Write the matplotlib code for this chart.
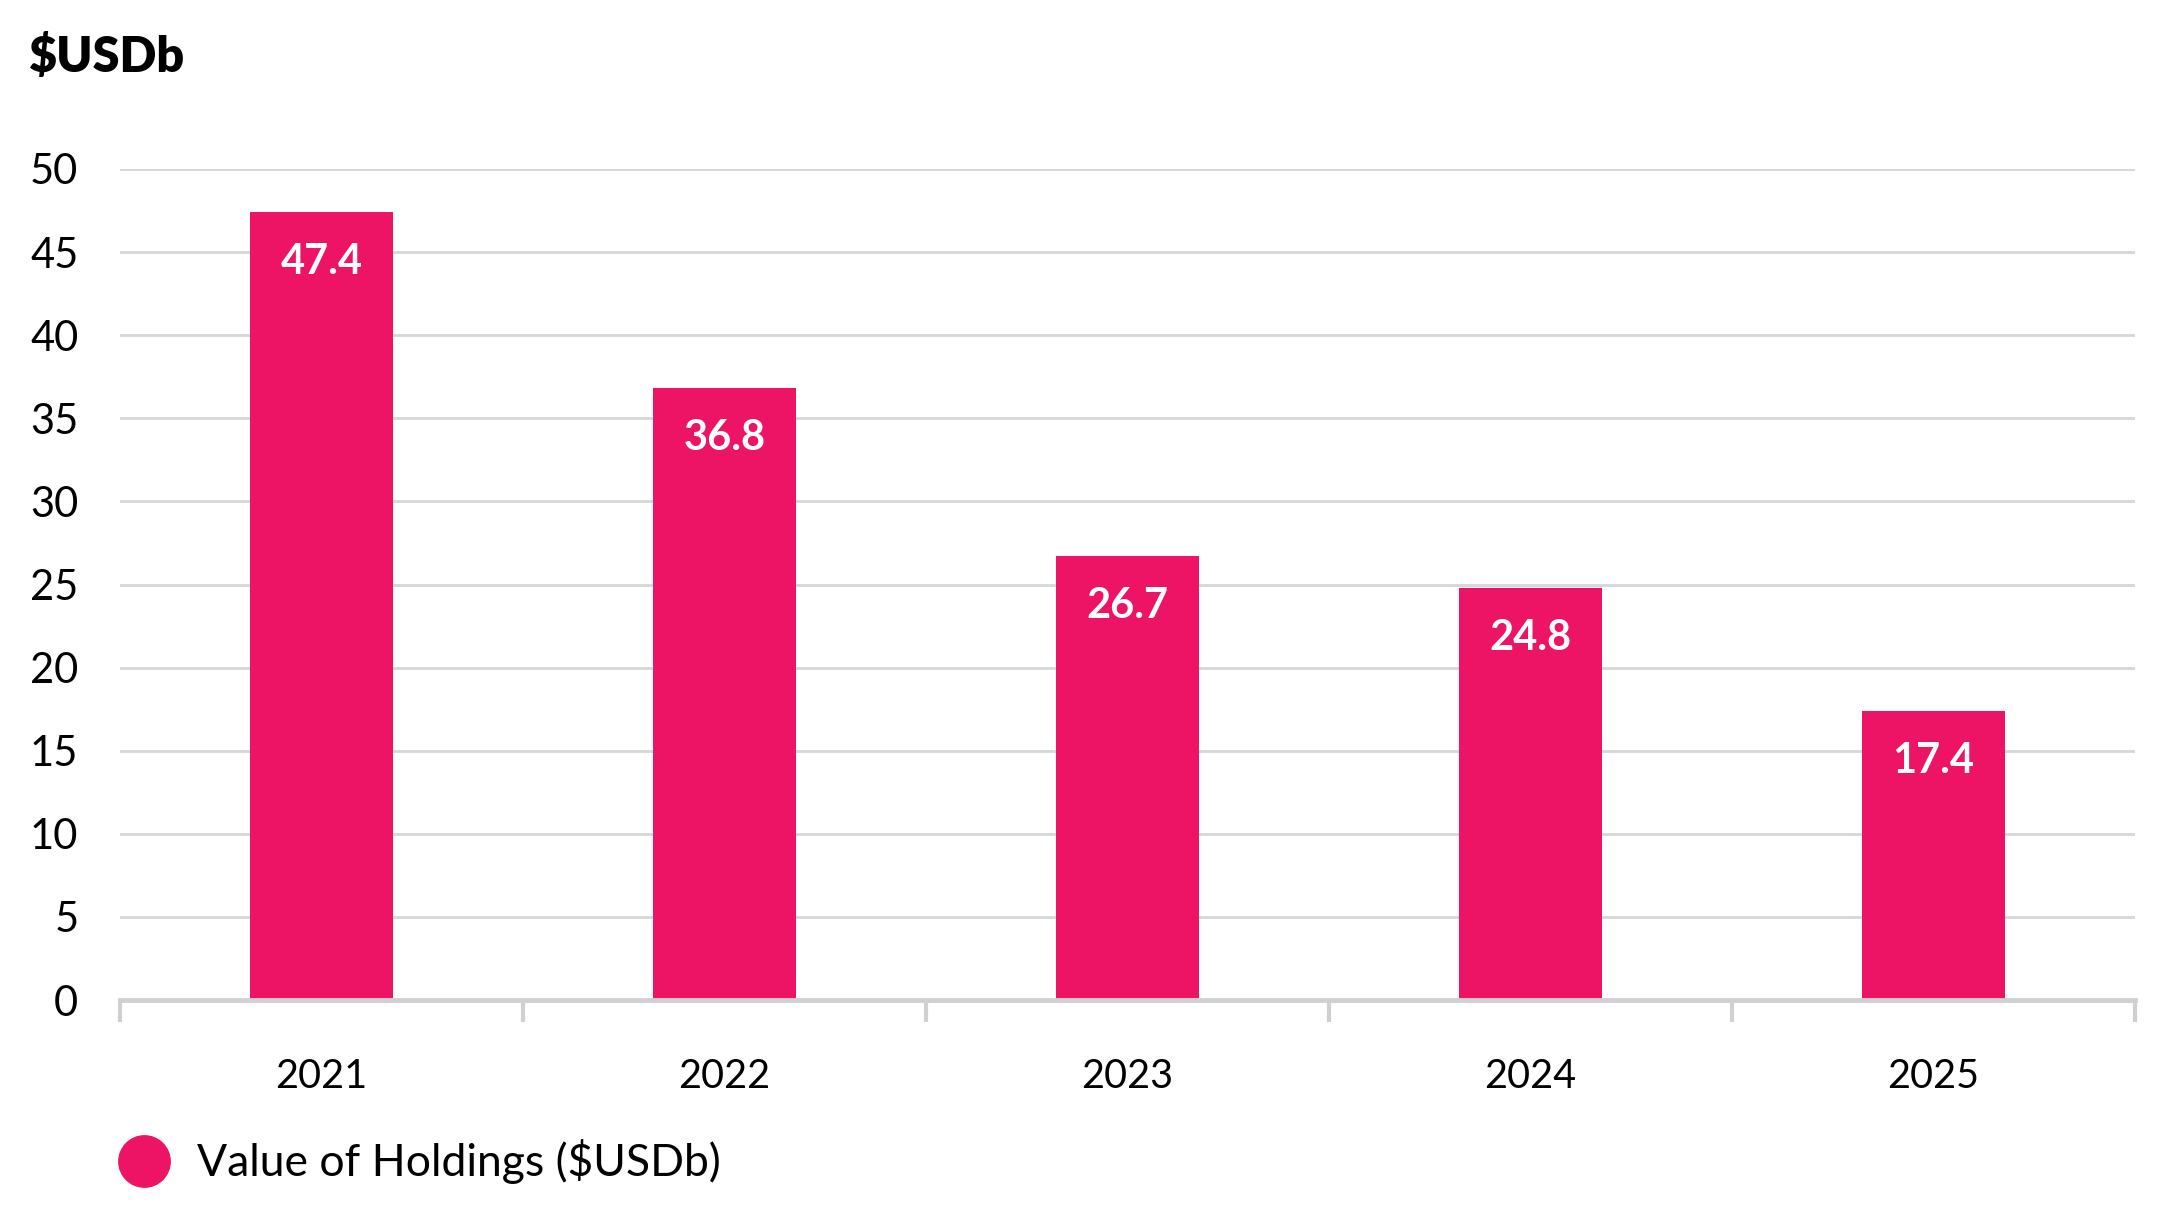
import matplotlib
matplotlib.use("Agg")
import matplotlib.pyplot as plt
from matplotlib.lines import Line2D

plt.rcParams["font.family"] = ["Lato", "DejaVu Sans"]

YEARS = ["2021", "2022", "2023", "2024", "2025"]
HOLDINGS = [47.4, 36.8, 26.7, 24.8, 17.4]
Y_TICKS = [0, 5, 10, 15, 20, 25, 30, 35, 40, 45, 50]

PINK = "#ED1465"
GRID = "#d6d6d6"
AXIS = "#d0d0d0"

W, H = 2175, 1223
fig = plt.figure(figsize=(W / 100, H / 100), dpi=100)
ax = fig.add_axes([120 / W, 1 - 1000 / H, (2135 - 120) / W, (1000 - 169) / H])

x = list(range(len(YEARS)))
bars = ax.bar(x, HOLDINGS, width=0.354, color=PINK, zorder=3)

for b, v in zip(bars, HOLDINGS):
    ax.annotate(f"{v:.1f}", (b.get_x() + b.get_width() / 2, v),
                xytext=(0, -36), textcoords="offset points",
                ha="center", va="center", color="white",
                fontsize=30, fontweight="bold", zorder=4)

ax.set_xlim(-0.5, len(YEARS) - 0.5)
ax.set_ylim(0, 50)
ax.set_yticks(Y_TICKS)
ax.set_yticklabels([str(t) for t in Y_TICKS])
ax.tick_params(axis="y", length=0, pad=30, labelsize=30, labelcolor="black")
ax.yaxis.grid(True, color=GRID, lw=2, zorder=0)
ax.set_axisbelow(True)

# category labels centred, tick marks on category boundaries
ax.set_xticks(x)
ax.set_xticklabels(YEARS)
ax.tick_params(axis="x", length=0, pad=42, labelsize=28.5, labelcolor="black")
ax.set_xticks([i - 0.5 for i in range(len(YEARS) + 1)], minor=True)
ax.tick_params(axis="x", which="minor", length=16, width=3, color=AXIS)

for s in ["top", "right", "left"]:
    ax.spines[s].set_visible(False)
ax.spines["bottom"].set_color(AXIS)
ax.spines["bottom"].set_linewidth(3.5)
ax.spines["bottom"].set_zorder(5)

fig.text(28 / W, 1 - 57 / H, "$USDb", fontsize=35, fontweight="heavy",
         ha="left", va="center")

handle = Line2D([], [], marker="o", linestyle="none", markersize=37,
                markerfacecolor=PINK, markeredgecolor=PINK)
fig.legend([handle], ["Value of Holdings ($USDb)"], loc="center left",
           bbox_to_anchor=(118 / W, 1 - 1162 / H), frameon=False,
           fontsize=32, borderpad=0, borderaxespad=0,
           handlelength=1.17, handletextpad=0.6)

fig.savefig("out.png", dpi=100, facecolor="white")
